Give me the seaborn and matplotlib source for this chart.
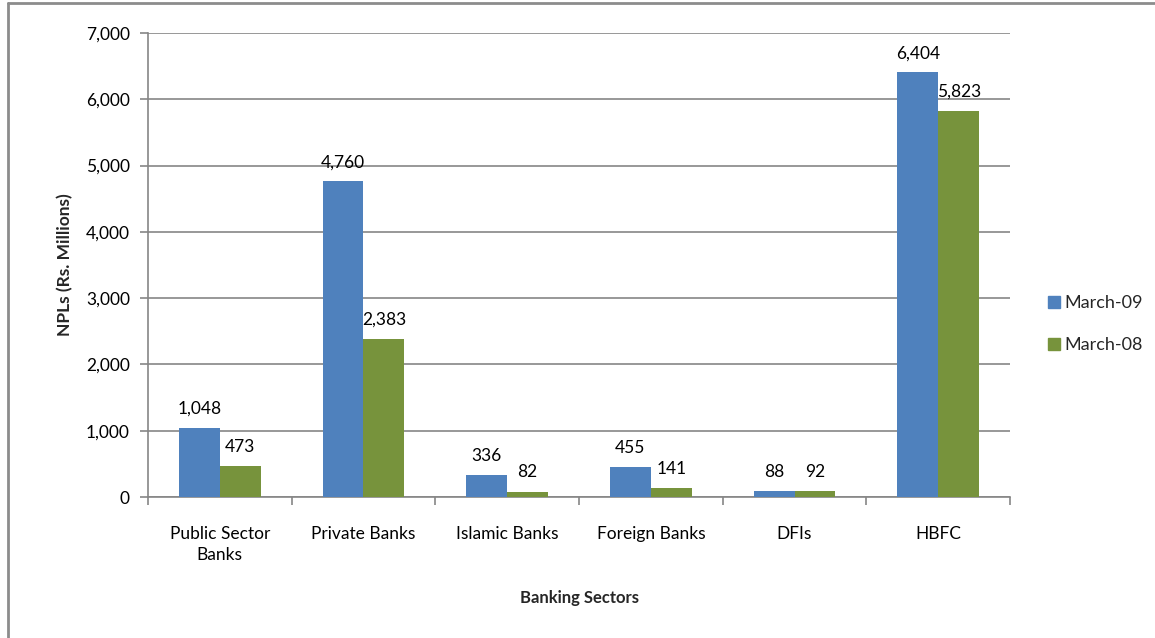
import matplotlib
matplotlib.use("Agg")
import matplotlib.pyplot as plt
import seaborn as sns
import pandas as pd
from matplotlib.lines import Line2D
from matplotlib.ticker import FuncFormatter, FixedLocator

sectors = ["Public Sector\nBanks", "Private Banks", "Islamic Banks",
           "Foreign Banks", "DFIs", "HBFC"]
march_09 = [1048, 4760, 336, 455, 88, 6404]
march_08 = [473, 2383, 82, 141, 92, 5823]
series_names = ["March-09", "March-08"]
colors = ["#4F81BD", "#77933C"]

df = pd.DataFrame({
    "Sector": sectors * 2,
    "Value": march_09 + march_08,
    "Period": [series_names[0]] * len(sectors) + [series_names[1]] * len(sectors),
})

sns.set_theme(style="white")
plt.rcParams["font.family"] = ["Lato", "DejaVu Sans"]

fs = 12.5

fig = plt.figure(figsize=(11.55, 6.38), dpi=100)
ax = fig.add_axes([0.1281, 0.2210, 0.8745 - 0.1281, 0.9483 - 0.2210])

sns.barplot(data=df, x="Sector", y="Value", hue="Period", order=sectors,
            hue_order=series_names, palette=colors, width=0.57, gap=0,
            saturation=1, edgecolor="none", linewidth=0, ax=ax, zorder=3)

grid_col = "#868686"
ax.set_ylim(0, 7000)
ax.set_xlim(-0.5, len(sectors) - 0.5)
ax.set_yticks(range(0, 7001, 1000))
ax.yaxis.set_major_formatter(FuncFormatter(lambda v, p: f"{int(v):,}"))
ax.grid(axis="y", color=grid_col, linewidth=1.2, zorder=0)
ax.set_axisbelow(True)

for side in ["top", "right"]:
    ax.spines[side].set_visible(False)
for side in ["left", "bottom"]:
    ax.spines[side].set_color(grid_col)
    ax.spines[side].set_linewidth(1.2)

ax.tick_params(axis="y", which="major", length=6, width=1.2, color=grid_col,
               direction="out", labelsize=fs, labelcolor="black", pad=7, left=True)
ax.tick_params(axis="x", which="major", length=0, labelsize=fs,
               labelcolor="black", pad=21)
for lbl in ax.get_xticklabels():
    lbl.set_linespacing(1.35)
ax.xaxis.set_minor_locator(FixedLocator([i - 0.5 for i in range(len(sectors) + 1)]))
ax.tick_params(axis="x", which="minor", length=6, width=1.2, color=grid_col,
               direction="out", bottom=True)

for container in ax.containers:
    ax.bar_label(container, labels=[f"{int(v):,}" for v in container.datavalues],
                 padding=8, fontsize=fs, color="black")

ax.set_xlabel("Banking Sectors", fontsize=12, fontweight="bold", labelpad=20)
ax.set_ylabel("NPLs (Rs. Millions)", fontsize=12.5, fontweight="bold", labelpad=9)

ax.legend(handles=[Line2D([0], [0], marker="s", linestyle="none", markersize=8,
                          markerfacecolor=c, markeredgecolor=c) for c in colors],
          labels=series_names, loc="center left", bbox_to_anchor=(1.022, 0.373),
          frameon=False, fontsize=13, handletextpad=0.05, labelspacing=1.45,
          handlelength=1.0)

# Outer chart frame (left and top edges)
fig.add_artist(Line2D([8 / 1155, 8 / 1155], [0, 1 - 3 / 638], color="#8c8c8c",
                      linewidth=2, transform=fig.transFigure))
fig.add_artist(Line2D([8 / 1155, 1], [1 - 3 / 638, 1 - 3 / 638], color="#8c8c8c",
                      linewidth=2, transform=fig.transFigure))

fig.savefig("out.png", dpi=100)
